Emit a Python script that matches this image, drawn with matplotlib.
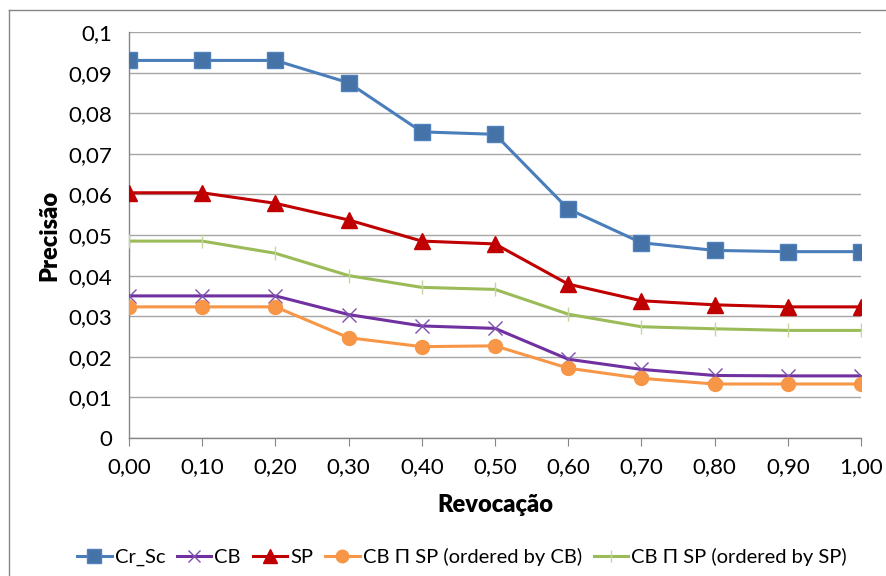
import matplotlib
matplotlib.use("Agg")
import matplotlib.pyplot as plt
import matplotlib.ticker as ticker
from matplotlib.lines import Line2D

plt.rcParams['font.family'] = ['Lato', 'DejaVu Sans']

# Dados: precisão por nível de revocação
revocacao = [0.0, 0.1, 0.2, 0.3, 0.4, 0.5, 0.6, 0.7, 0.8, 0.9, 1.0]
cr_sc = [0.0930, 0.0930, 0.0930, 0.0875, 0.0754, 0.0748, 0.0564, 0.0481, 0.0462, 0.0459, 0.0459]
cb = [0.0350, 0.0350, 0.0350, 0.0304, 0.0276, 0.0270, 0.0194, 0.0169, 0.0154, 0.0153, 0.0153]
sp = [0.0604, 0.0604, 0.0578, 0.0537, 0.0485, 0.0478, 0.0379, 0.0338, 0.0328, 0.0323, 0.0323]
cb_sp_cb = [0.0323, 0.0323, 0.0323, 0.0247, 0.0225, 0.0227, 0.0172, 0.0147, 0.0133, 0.0133, 0.0133]
cb_sp_sp = [0.0485, 0.0485, 0.0455, 0.0400, 0.0371, 0.0366, 0.0305, 0.0274, 0.0269, 0.0265, 0.0265]

nomes = ['Cr_Sc', 'CB', 'SP', 'CB Π SP (ordered by CB)', 'CB Π SP (ordered by SP)']

fig = plt.figure(figsize=(8.86, 5.76), dpi=100)
ax = fig.add_axes([129 / 886, 1 - 438 / 576, 732 / 886, 406 / 576])

ax.plot(revocacao, cr_sc, color='#4A7EBB', lw=2.2, marker='s', ms=11,
        mfc='#4572A7', mec='#4F81BD', label=nomes[0], zorder=3)
ax.plot(revocacao, cb, color='#7030A0', lw=2.2, marker='x', ms=10,
        mew=1.0, mec='#7D4FAE', label=nomes[1], zorder=3)
ax.plot(revocacao, sp, color='#C00000', lw=2.2, marker='^', ms=11,
        mfc='#C00000', mec='#C00000', label=nomes[2], zorder=3)
ax.plot(revocacao, cb_sp_cb, color='#F79646', lw=2.2, marker='o', ms=10,
        mfc='#F79646', mec='#F79646', label=nomes[3], zorder=3)
ax.plot(revocacao, cb_sp_sp, color='#9BBB59', lw=2.2, marker='|', ms=10,
        mew=1.0, mec='#C3D69B', label=nomes[4], zorder=3)

ax.set_xlim(0, 1)
ax.set_ylim(0, 0.1)
ax.set_xticks(revocacao)
ax.set_yticks([i / 100 for i in range(11)])

ax.xaxis.set_major_formatter(ticker.FuncFormatter(lambda v, _: f"{v:.2f}".replace('.', ',')))
ax.yaxis.set_major_formatter(ticker.FuncFormatter(
    lambda v, _: '0' if abs(v) < 1e-9 else (f"{v:.2f}".rstrip('0').replace('.', ','))))

ax.grid(axis='y', color='#A6A6A6', lw=1.0)
ax.set_axisbelow(True)
for s in ['top', 'right']:
    ax.spines[s].set_visible(False)
for s in ['left', 'bottom']:
    ax.spines[s].set_color('#868686')
    ax.spines[s].set_linewidth(1.0)

ax.tick_params(axis='x', direction='out', length=6, color='#868686', labelsize=16, pad=8)
ax.tick_params(axis='y', length=0, labelsize=16, pad=12)
for lbl in ax.get_xticklabels() + ax.get_yticklabels():
    lbl.set_clip_on(False)

ax.set_xlabel('Revocação', fontsize=17, fontweight='heavy', labelpad=12)
ax.set_ylabel('Precisão', fontsize=17, fontweight='heavy', labelpad=6)

handles, labels = ax.get_legend_handles_labels()
fig.legend(handles, labels, loc='center', bbox_to_anchor=(462 / 886, 1 - 557 / 576),
           ncol=5, frameon=False, fontsize=14.5, handlelength=1.7,
           handletextpad=0.15, columnspacing=0.6, markerscale=0.9)

# moldura do gráfico
fig.add_artist(Line2D([9 / 886, 9 / 886], [0, 1 - 10 / 576], transform=fig.transFigure,
                      color='#868686', lw=1.0))
fig.add_artist(Line2D([9 / 886, 1], [1 - 10 / 576, 1 - 10 / 576], transform=fig.transFigure,
                      color='#868686', lw=1.0))

fig.savefig('out.png', dpi=100)
